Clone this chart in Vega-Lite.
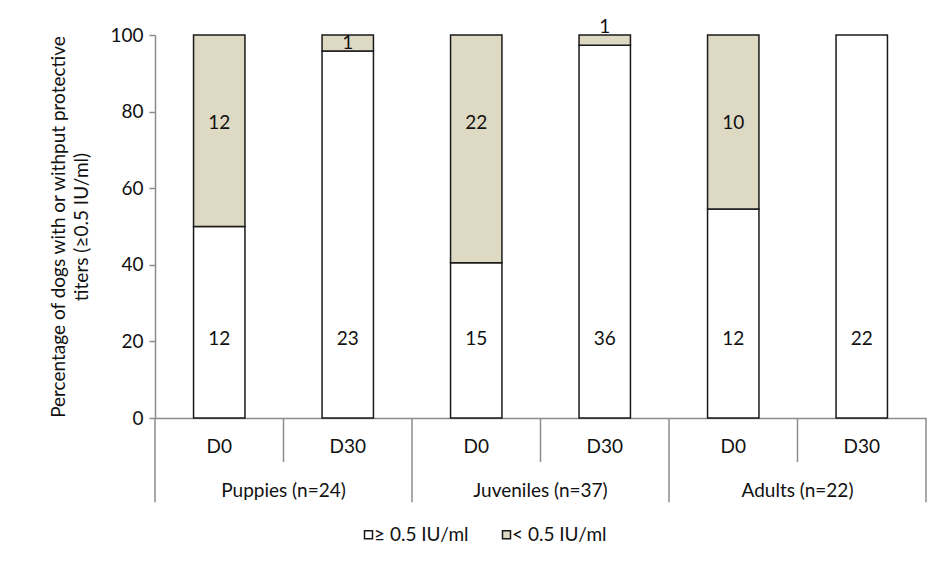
{
  "$schema": "https://vega.github.io/schema/vega-lite/v6.json",
  "width": 771,
  "height": 383,
  "autosize": "none",
  "padding": {"left": 155, "top": 35, "right": 18, "bottom": 152},
  "background": "white",
  "config": {
    "view": {"stroke": null},
    "font": "Lato",
    "text": {"font": "Lato", "fontSize": 19, "color": "#111111"}
  },
  "datasets": {
    "bars": [
      {"key": "Puppies|D0", "status": "≥ 0.5 IU/ml", "pct": 50.0, "n": 12},
      {"key": "Puppies|D0", "status": "< 0.5 IU/ml", "pct": 50.0, "n": 12},
      {"key": "Puppies|D30", "status": "≥ 0.5 IU/ml", "pct": 95.83, "n": 23},
      {"key": "Puppies|D30", "status": "< 0.5 IU/ml", "pct": 4.17, "n": 1},
      {"key": "Juveniles|D0", "status": "≥ 0.5 IU/ml", "pct": 40.54, "n": 15},
      {"key": "Juveniles|D0", "status": "< 0.5 IU/ml", "pct": 59.46, "n": 22},
      {"key": "Juveniles|D30", "status": "≥ 0.5 IU/ml", "pct": 97.3, "n": 36},
      {"key": "Juveniles|D30", "status": "< 0.5 IU/ml", "pct": 2.7, "n": 1},
      {"key": "Adults|D0", "status": "≥ 0.5 IU/ml", "pct": 54.55, "n": 12},
      {"key": "Adults|D0", "status": "< 0.5 IU/ml", "pct": 45.45, "n": 10},
      {"key": "Adults|D30", "status": "≥ 0.5 IU/ml", "pct": 100.0, "n": 22}
    ],
    "seps": [
      {"key": "Puppies|D0", "kind": "group"},
      {"key": "Puppies|D30", "kind": "day"},
      {"key": "Juveniles|D0", "kind": "group"},
      {"key": "Juveniles|D30", "kind": "day"},
      {"key": "Adults|D0", "kind": "group"},
      {"key": "Adults|D30", "kind": "day"},
      {"key": "Adults|D30", "kind": "end"}
    ],
    "groups": [
      {"key": "Puppies|D0", "label": "Puppies (n=24)"},
      {"key": "Juveniles|D0", "label": "Juveniles (n=37)"},
      {"key": "Adults|D0", "label": "Adults (n=22)"}
    ]
  },
  "data": {"name": "bars"},
  "encoding": {
    "x": {
      "field": "key",
      "type": "nominal",
      "scale": {
        "domain": ["Puppies|D0", "Puppies|D30", "Juveniles|D0", "Juveniles|D30", "Adults|D0", "Adults|D30"],
        "paddingInner": 0,
        "paddingOuter": 0
      },
      "axis": {
        "title": null,
        "labelExpr": "split(datum.value, '|')[1]",
        "labelAngle": 0,
        "labelFontSize": 19,
        "labelColor": "#111111",
        "labelPadding": 19,
        "ticks": false,
        "domainColor": "#8c8c8c",
        "domainWidth": 1.5,
        "grid": false
      }
    }
  },
  "layer": [
    {
      "mark": {"type": "bar", "width": {"band": 0.4}, "stroke": "#1a1a1a", "strokeWidth": 1.5},
      "encoding": {
        "y": {
          "field": "pct",
          "type": "quantitative",
          "stack": "zero",
          "scale": {"domain": [0, 100]},
          "axis": {
            "values": [0, 20, 40, 60, 80, 100],
            "grid": false,
            "title": ["Percentage of dogs with or withput protective", "titers (≥0.5 IU/ml)"],
            "titleFontSize": 19,
            "titleFontWeight": "normal",
            "titleColor": "#111111",
            "titlePadding": 18,
            "titleLineHeight": 23,
            "labelFontSize": 19,
            "labelColor": "#111111",
            "labelPadding": 6,
            "tickColor": "#8c8c8c",
            "tickSize": 6,
            "tickWidth": 1.5,
            "domainColor": "#8c8c8c",
            "domainWidth": 1.5
          }
        },
        "color": {
          "field": "status",
          "type": "nominal",
          "scale": {"domain": ["≥ 0.5 IU/ml", "< 0.5 IU/ml"], "range": ["#ffffff", "#ddd9c3"]},
          "legend": {
            "title": null,
            "orient": "none",
            "legendX": 204,
            "legendY": 490,
            "direction": "horizontal",
            "symbolType": "square",
            "symbolSize": 64,
            "symbolStrokeColor": "#1a1a1a",
            "symbolStrokeWidth": 1.5,
            "labelFontSize": 19,
            "labelColor": "#111111",
            "labelOffset": -4,
            "columnPadding": 28
          }
        },
        "order": {"field": "status", "sort": "descending"}
      }
    },
    {
      "transform": [{"filter": "datum.status === '≥ 0.5 IU/ml'"}],
      "mark": {"type": "text", "baseline": "middle", "align": "center"},
      "encoding": {"y": {"datum": 20.5, "type": "quantitative"}, "text": {"field": "n"}}
    },
    {
      "transform": [{"filter": "datum.status === '< 0.5 IU/ml' && datum.pct > 10"}],
      "mark": {"type": "text", "baseline": "middle", "align": "center"},
      "encoding": {"y": {"datum": 77, "type": "quantitative"}, "text": {"field": "n"}}
    },
    {
      "transform": [{"filter": "datum.key === 'Puppies|D30' && datum.status === '< 0.5 IU/ml'"}],
      "mark": {"type": "text", "baseline": "middle", "align": "center"},
      "encoding": {"y": {"datum": 98, "type": "quantitative"}, "text": {"field": "n"}}
    },
    {
      "transform": [{"filter": "datum.key === 'Juveniles|D30' && datum.status === '< 0.5 IU/ml'"}],
      "mark": {"type": "text", "baseline": "middle", "align": "center"},
      "encoding": {"y": {"datum": 102, "type": "quantitative"}, "text": {"field": "n"}}
    },
    {
      "data": {"name": "seps"},
      "transform": [{"filter": "datum.kind === 'group'"}],
      "mark": {"type": "rule", "color": "#8c8c8c", "strokeWidth": 1.5},
      "encoding": {
        "x": {"field": "key", "type": "nominal", "bandPosition": 0},
        "y": {"datum": 0, "type": "quantitative"},
        "y2": {"datum": -22}
      }
    },
    {
      "data": {"name": "seps"},
      "transform": [{"filter": "datum.kind === 'day'"}],
      "mark": {"type": "rule", "color": "#8c8c8c", "strokeWidth": 1.5},
      "encoding": {
        "x": {"field": "key", "type": "nominal", "bandPosition": 0},
        "y": {"datum": 0, "type": "quantitative"},
        "y2": {"datum": -11.5}
      }
    },
    {
      "data": {"name": "seps"},
      "transform": [{"filter": "datum.kind === 'end'"}],
      "mark": {"type": "rule", "color": "#8c8c8c", "strokeWidth": 1.5},
      "encoding": {
        "x": {"field": "key", "type": "nominal", "bandPosition": 1},
        "y": {"datum": 0, "type": "quantitative"},
        "y2": {"datum": -22}
      }
    },
    {
      "data": {"name": "groups"},
      "mark": {"type": "text", "baseline": "middle", "align": "center"},
      "encoding": {
        "x": {"field": "key", "type": "nominal", "bandPosition": 1},
        "y": {"datum": -19, "type": "quantitative"},
        "text": {"field": "label"}
      }
    }
  ]
}
